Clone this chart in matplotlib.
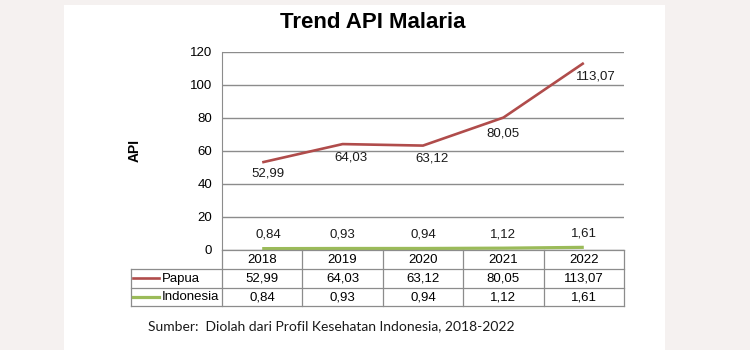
import matplotlib
matplotlib.use('Agg')
import matplotlib.pyplot as plt
from matplotlib.patches import Rectangle
from matplotlib.lines import Line2D

years = ['2018', '2019', '2020', '2021', '2022']
papua = [52.99, 64.03, 63.12, 80.05, 113.07]
indonesia = [0.84, 0.93, 0.94, 1.12, 1.61]
series_names = ['Papua', 'Indonesia']
y_ticks = [0, 20, 40, 60, 80, 100, 120]

red = '#B04C4B'
green = '#9BBB59'
grey = '#8C8C8C'
W, H = 750, 350

def fmt(v):
    return f'{v:.2f}'.replace('.', ',')

plt.rcParams['font.family'] = ['Liberation Sans', 'DejaVu Sans']

fig = plt.figure(figsize=(7.5, 3.5), dpi=100, facecolor='#F5F1F0')

# white card behind the chart
fig.patches.append(Rectangle((64 / W, 0), (665 - 64) / W, 1 - 5 / H,
                             transform=fig.transFigure, facecolor='white',
                             edgecolor='none', zorder=-5))

px = lambda x: x / W
py = lambda y: 1 - y / H

left, right, top, bottom = 222, 624, 51.5, 250
ax = fig.add_axes([px(left), py(bottom), px(right - left), (bottom - top) / H])
ax.set_facecolor('none')
ax.set_xlim(-0.5, len(years) - 0.5)
ax.set_ylim(0, 120)
ax.set_yticks(y_ticks)
ax.set_yticklabels([str(t) for t in y_ticks], fontsize=9.5)
ax.tick_params(axis='y', length=0, pad=7)
ax.set_xticks([])
ax.grid(axis='y', color=grey, linewidth=1)
ax.set_axisbelow(True)
for s in ['top', 'right', 'bottom']:
    ax.spines[s].set_visible(False)
ax.spines['left'].set_color(grey)

x = list(range(len(years)))
ax.plot(x, papua, color=red, linewidth=1.9, solid_capstyle='butt', zorder=3)
ax.plot(x, indonesia, color=green, linewidth=2.3, solid_capstyle='butt', zorder=3)

papua_offsets = [(6, -11), (8, -13), (9, -13), (0, -16), (12, -14)]
for xi, v, off in zip(x, papua, papua_offsets):
    ax.annotate(fmt(v), (xi, v), xytext=off, textcoords='offset pixels',
                ha='center', va='center', fontsize=9.5, color='#1a1a1a')
indo_offsets = [(6, 14), (0, 14), (0, 14), (0, 14), (0, 14)]
for xi, v, off in zip(x, indonesia, indo_offsets):
    ax.annotate(fmt(v), (xi, v), xytext=off, textcoords='offset pixels',
                ha='center', va='center', fontsize=9.5, color='#1a1a1a')

ax.set_ylabel('API', fontsize=10, fontweight='bold', labelpad=35)

fig.text(px(373), py(23), 'Trend API Malaria', ha='center', va='center',
         fontsize=16, fontweight='bold', color='black')

# data table under the axis
col_w = (right - left) / len(years)
rows = [250, 269, 287.5, 305.7]
key_left = 131

def hline(x0, x1, y):
    fig.add_artist(Line2D([px(x0), px(x1)], [py(y), py(y)], color=grey,
                          linewidth=0.9, transform=fig.transFigure))

def vline(xx, y0, y1):
    fig.add_artist(Line2D([px(xx), px(xx)], [py(y0), py(y1)], color=grey,
                          linewidth=0.9, transform=fig.transFigure))

hline(left, right, rows[0])
for r in rows[1:]:
    hline(key_left, right, r)
for i in range(len(years) + 1):
    vline(left + i * col_w, rows[0], rows[3])
vline(key_left, rows[1], rows[3])

for i, yr in enumerate(years):
    fig.text(px(left + (i + 0.5) * col_w), py((rows[0] + rows[1]) / 2 + 0.5), yr,
             ha='center', va='center', fontsize=9.5)

table_rows = [(series_names[0], papua, red, 1.9), (series_names[1], indonesia, green, 2.3)]
for k, (name, vals, c, lw) in enumerate(table_rows):
    yc = (rows[k + 1] + rows[k + 2]) / 2
    fig.add_artist(Line2D([px(133), px(159)], [py(yc), py(yc)], color=c,
                          linewidth=lw, transform=fig.transFigure))
    fig.text(px(162), py(yc + 0.5), name, ha='left', va='center', fontsize=9.5)
    for i, v in enumerate(vals):
        fig.text(px(left + (i + 0.5) * col_w), py(yc + 0.5), fmt(v),
                 ha='center', va='center', fontsize=9.5)

fig.text(px(148), py(326), 'Sumber:  Diolah dari Profil Kesehatan Indonesia, 2018-2022',
         ha='left', va='center', fontsize=10, family=['Lato', 'DejaVu Sans'],
         color='#1a1a1a')

fig.savefig('out.png', dpi=100, facecolor=fig.get_facecolor())
